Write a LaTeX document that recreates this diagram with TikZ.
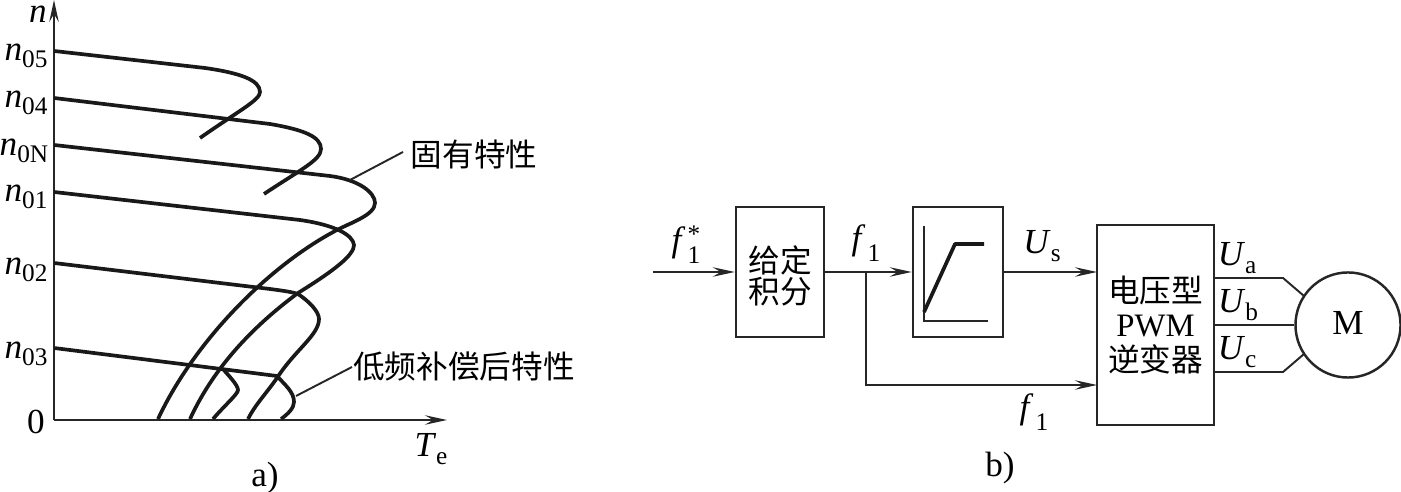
\documentclass[tikz,border=0pt]{standalone}
\usepackage{fontspec}
\setmainfont{Liberation Serif}
\newfontfamily\cjk{Noto Sans CJK SC}
\usetikzlibrary{arrows.meta,positioning,calc}
\newcommand{\subs}[2]{\textit{#1}\raisebox{-0.45ex}{\fontsize{7.2}{7}\selectfont #2}}
\newcommand{\subf}[1]{\textit{f}\hspace{0.6pt}\raisebox{-0.75ex}{\fontsize{7.2}{7}\selectfont #1}}

\begin{document}
\begin{tikzpicture}[x=0.01cm, y=-0.01cm, font=\fontsize{10}{10}\selectfont,
    >={Stealth[length=2.2mm, width=0.95mm, inset=0.8mm]}]
  \useasboundingbox (0,0) rectangle (1401,492);
  \tikzstyle{thinl}=[line width=0.55pt, black!85]
  \tikzstyle{curve}=[line width=1.05pt, line join=round, black!90]
  \tikzstyle{blockbox}=[draw=black!85, line width=0.7pt, inner sep=0pt, align=center]
  \tikzstyle{cjktext}=[font=\fontsize{9}{9.7}\selectfont\cjk]

  % axes
  \coordinate (origin) at (54,420);
  \coordinate (ytip) at (54,0);
  \coordinate (xtip) at (447,420);
  \draw[->, thinl] (origin) -- (ytip);
  \draw[->, thinl] (origin) -- (xtip);
  \node (nlab) at (38,14) {\textit{n}};
  \node (n05) at (26,56) {\subs{n}{05}};
  \node (n04) at (26,103) {\subs{n}{04}};
  \node (n0N) at (24,151) {\subs{n}{0N}};
  \node (n01) at (26,197) {\subs{n}{01}};
  \node (n02) at (26,270) {\subs{n}{02}};
  \node (n03) at (26,354) {\subs{n}{03}};
  \node (zero) at (36,422) {0};
  \node (Te) at (431,449) {\subs{T}{e}};
  \node (capa) at (265,478) {a)};

  % characteristics
  \draw[curve] (54,51) -- (205,68) .. controls (240,73) and (260,80) .. (260,92)
     .. controls (260,100) and (240,110) .. (200,138);
  \draw[curve] (54,98) -- (270,124) .. controls (305,130) and (321,137) .. (321,149)
     .. controls (321,160) and (300,170) .. (264,194);
  \draw[curve] (54,145) -- (330,176) .. controls (360,180) and (375,193) .. (375,203)
     .. controls (375,215) and (350,223) .. (337,230)
     .. controls (270,265) and (195,340) .. (158,419);
  \draw[curve] (54,192) -- (300,220) .. controls (335,225) and (353,235) .. (354,245)
     .. controls (354,255) and (335,270) .. (298,293)
     .. controls (255,325) and (215,365) .. (190,419);
  \draw[curve] (54,263) -- (270,289) .. controls (285,291) and (292,292) .. (298,294)
     .. controls (310,302) and (319,312) .. (319,319)
     .. controls (319,335) and (295,350) .. (277,378)
     .. controls (265,395) and (255,405) .. (248,419);
  \draw[curve] (54,348) -- (277,376) .. controls (285,385) and (294,392) .. (294,402)
     .. controls (294,408) and (288,414) .. (281,419);
  \draw[curve] (223,369) .. controls (228,375) and (238,385) .. (238,390)
     .. controls (238,394) and (225,405) .. (213,419);

  % leaders
  \node[cjktext] (natural) at (474,154) {固有特性};
  \node[cjktext] (lowf) at (464,366) {低频补偿后特性};
  \coordinate (natfoot) at (350,180);
  \coordinate (lowfoot) at (296,396);
  \draw[thinl] (natfoot) -- (403,152);
  \draw[thinl] (lowfoot) -- (352,367);

  % block diagram
  \node[blockbox, minimum width=0.88cm, minimum height=1.30cm] (integ) at (780,272) {};
  \node[cjktext, align=center, inner sep=0pt] (integtxt) at (780,276) {给定\\[-0.8pt]积分};
  \node[blockbox, minimum width=0.90cm, minimum height=1.30cm] (curvebox) at (958,272) {};
  \node[blockbox, cjktext, minimum width=1.17cm, minimum height=2.00cm] (inverter) at (1155.5,325)
     {电压型\\{\fontsize{9.3}{9.7}\selectfont\rmfamily PWM}\\逆变器};
  \node[draw=black!85, line width=0.7pt, circle, minimum size=1.05cm, inner sep=0pt] (motor) at (1348,325) {\raisebox{1.4pt}{M}};

  % ramp inside the box
  \draw[thinl, line width=0.7pt] (924,226) -- (924,321) -- (988,321);
  \draw[curve] (924,312) -- (955,244) -- (984,244);

  % signals
  \coordinate (input) at (653,272);
  \coordinate (branch) at (866,272);
  \coordinate (usin) at (1097,272);
  \coordinate (fin) at (1097,385);
  \draw[->, thinl] (input) -- (integ.west);
  \draw[->, thinl] (integ.east) -- (curvebox.west);
  \draw[->, thinl] (branch) |- (fin);
  \draw[->, thinl] (curvebox.east) -- (usin);
  \coordinate (ua) at (1214,278);
  \coordinate (uc) at (1214,372);
  \draw[thinl] (ua) -- (1283,278) -- (1304,296);
  \draw[thinl] (inverter.east) -- (motor.west);
  \draw[thinl] (uc) -- (1283,372) -- (1304,354);

  \node (fstar) at (686,245) {\subf{1}\llap{\raisebox{0.55ex}{\fontsize{7.2}{7}\selectfont *}}};
  \node (f1a) at (866,243) {\subf{1}};
  \node (us) at (1042,246) {\subs{U}{s}};
  \node (uanode) at (1237,258) {\subs{U}{a}};
  \node (ubnode) at (1238,305) {\subs{U}{b}};
  \node (ucnode) at (1237,352) {\subs{U}{c}};
  \node (f1b) at (1034,412) {\subf{1}};
  \node (capb) at (1000,468) {b)};
\end{tikzpicture}
\end{document}
